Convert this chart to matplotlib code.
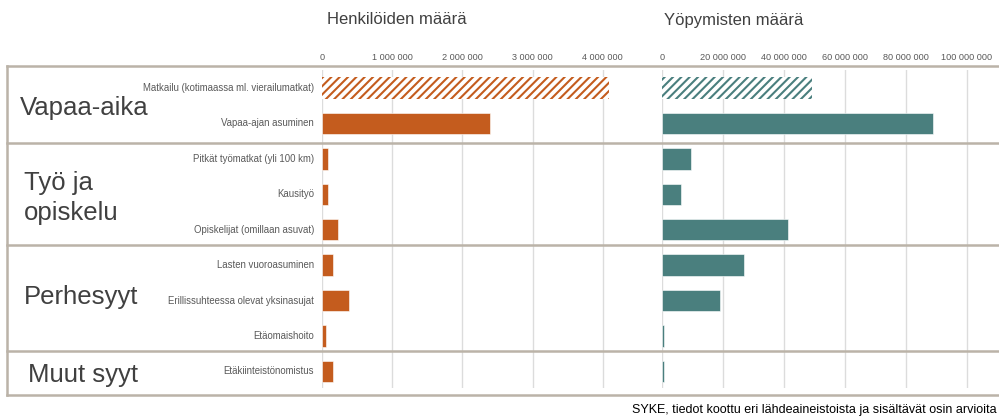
import matplotlib
matplotlib.use("Agg")
import matplotlib.pyplot as plt
from matplotlib.lines import Line2D
from matplotlib.ticker import FuncFormatter

plt.rcParams['font.family'] = ['Liberation Sans', 'DejaVu Sans']
plt.rcParams['hatch.linewidth'] = 1.5

# ---- data ----
row_labels = [
    "Matkailu (kotimaassa ml. vierailumatkat)",
    "Vapaa-ajan asuminen",
    "Pitkät työmatkat (yli 100 km)",
    "Kausityö",
    "Opiskelijat (omillaan asuvat)",
    "Lasten vuoroasuminen",
    "Erillissuhteessa olevat yksinasujat",
    "Etäomaishoito",
    "Etäkiinteistönomistus",
]
persons = [4090000, 2390000, 80000, 80000, 230000, 150000, 380000, 60000, 160000]
nights = [49100000, 88700000, 9600000, 6200000, 41300000, 26800000, 18900000, 700000, 800000]
hatched = [True, False, False, False, False, False, False, False, False]
groups = ["Vapaa-aika", "Työ ja\nopiskelu", "Perhesyyt", "Muut syyt"]
persons_ticks = [0, 1000000, 2000000, 3000000, 4000000]
nights_ticks = [0, 20000000, 40000000, 60000000, 80000000, 100000000]
title_left = "Henkilöiden määrä"
title_right = "Yöpymisten määrä"
source = "SYKE, tiedot koottu eri lähdeaineistoista ja sisältävät osin arvioita"

ORANGE = "#c45c1e"
TEAL = "#4a7f7e"
FRAME = "#bbb3a8"
GRID = "#dcdcdc"
TXT = "#595959"

W, H = 999, 419
fig = plt.figure(figsize=(W / 100, H / 100), dpi=100)


def fx(px):
    return px / W


def fy(py):
    return 1 - py / H


ax_top, ax_bot = 70, 388
y_lo = -0.51
y_hi = 8.47


def make_ax(x0, x1):
    return fig.add_axes([fx(x0), fy(ax_bot), fx(x1 - x0), (ax_bot - ax_top) / H])


fmt = FuncFormatter(lambda v, p: f"{int(v):,}".replace(",", " "))

axL = make_ax(322, 650)
axR = make_ax(662, 1030)

for ax, vals, color, xmax, ticks in [
    (axL, persons, ORANGE, 328 / 70.2 * 1e6, persons_ticks),
    (axR, nights, TEAL, 368 / 3.05 * 1e6, nights_ticks),
]:
    ypos = list(range(len(vals)))
    for y, v, h in zip(ypos, vals, hatched):
        if h:
            ax.barh(y, v, height=0.6, facecolor="white", edgecolor=color,
                    hatch="////", linewidth=0, zorder=3)
        else:
            ax.barh(y, v, height=0.6, color=color, edgecolor="white",
                    linewidth=0.4, zorder=3)
    ax.set_xlim(0, xmax)
    ax.set_ylim(y_hi, y_lo)
    ax.set_yticks([])
    ax.set_xticks(ticks)
    ax.xaxis.set_major_formatter(fmt)
    ax.xaxis.tick_top()
    ax.tick_params(axis="x", length=0, pad=6, labelsize=6.6, labelcolor=TXT)
    ax.grid(axis="x", color=GRID, linewidth=1, zorder=0)
    for s in ax.spines.values():
        s.set_visible(False)
    ax.patch.set_alpha(0)

# row labels
for i, lab in enumerate(row_labels):
    ypx = ax_top + (i - y_lo) / (y_hi - y_lo) * (ax_bot - ax_top)
    fig.text(fx(314), fy(ypx), lab, ha="right", va="center", fontsize=6.9, color=TXT)

# frame and separators
for ypx in [66, 143, 245.5, 350.5, 395]:
    fig.add_artist(Line2D([fx(7), 1.0], [fy(ypx), fy(ypx)], color=FRAME, linewidth=1.8))
fig.add_artist(Line2D([fx(7), fx(7)], [fy(66), fy(395)], color=FRAME, linewidth=1.8))

# group labels
group_pos = [(20, 108), (24, 198), (24, 297), (28, 375)]
for g, (gx, gy) in zip(groups, group_pos):
    fig.text(fx(gx), fy(gy), g, ha="left", va="center", fontsize=18.5,
             color="#404040", linespacing=1.3)

# titles
fig.text(fx(397), fy(20), title_left, ha="center", va="center", fontsize=12, color="#404040")
fig.text(fx(734), fy(20), title_right, ha="center", va="center", fontsize=12, color="#404040")

# source
fig.text(fx(632), fy(410), source, ha="left", va="center", fontsize=9.0, color="black")

fig.savefig("out.png", dpi=100)
